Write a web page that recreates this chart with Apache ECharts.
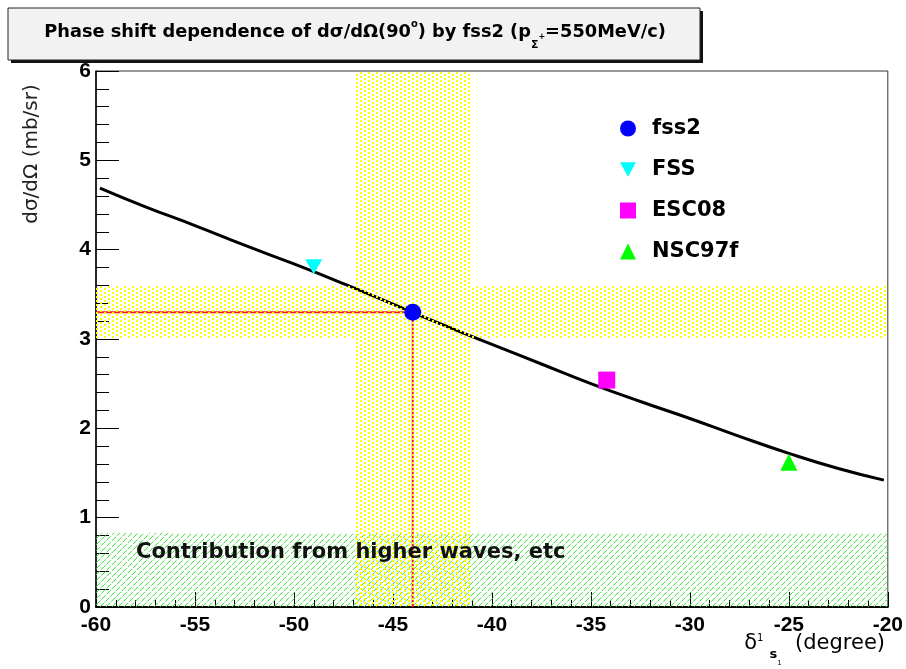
<!DOCTYPE html>
<html>
<head>
<meta charset="utf-8">
<script src="https://cdn.jsdelivr.net/npm/echarts@6/dist/echarts.min.js"></script>
<style>
  html, body { margin: 0; padding: 0; background: #ffffff; }
  #chart { width: 906px; height: 669px; }
</style>
</head>
<body>
<div id="chart"></div>
<script>
// fss2 prediction of dσ/dΩ(90°) as a function of the phase shift (degrees)
const curveDelta = [-59.8, -57.5, -55, -52.5, -50, -47.5, -45, -42.5, -40, -37.5, -35, -32.5, -30, -27.5, -25, -22.5, -20.2];
const curveXsec  = [4.69, 4.48, 4.27, 4.05, 3.84, 3.62, 3.39, 3.16, 2.94, 2.72, 2.50, 2.30, 2.11, 1.91, 1.72, 1.55, 1.42];

// model points
const modelNames   = ['fss2', 'FSS', 'ESC08', 'NSC97f'];
const modelDelta   = [-44.0, -49.0, -34.2, -25.0];
const modelXsec    = [3.30, 3.81, 2.54, 1.62];
const modelSymbols = ['circle', 'path://M0,0 L10,0 L5,9 Z', 'rect', 'triangle'];
const modelColors  = ['#0000ff', '#00ffff', '#ff00ff', '#00ff00'];

// uncertainty bands
const deltaBand   = [-47, -41];
const xsecBand    = [3.0, 3.6];
const higherWaves = 0.83;

// axis ranges
const deltaRange = [-60, -20];
const xsecRange  = [0, 6];

// 8x8 stipple cell (2x2 dots) used for the yellow bands
const stippleCell = [[0, 0], [4, 2], [0, 4], [4, 6]];

function rectOf(api) {
  const a = api.coord([api.value(0), api.value(1)]);
  const b = api.coord([api.value(2), api.value(3)]);
  return {
    x: Math.min(a[0], b[0]), y: Math.min(a[1], b[1]),
    w: Math.abs(b[0] - a[0]), h: Math.abs(b[1] - a[1])
  };
}

// yellow stippled band: one compound path of dots on the pixel grid
function renderDotBand(params, api) {
  const r = rectOf(api);
  const x0 = Math.ceil(r.x), x1 = Math.floor(r.x + r.w);
  const y0 = Math.ceil(r.y), y1 = Math.floor(r.y + r.h);
  const parts = [];
  for (let by = Math.floor(y0 / 8) * 8; by < y1; by += 8) {
    for (let bx = Math.floor(x0 / 8) * 8; bx < x1; bx += 8) {
      for (const c of stippleCell) {
        const px = bx + c[0], py = by + c[1];
        if (px < x0 || px + 2 > x1 || py < y0 || py + 2 > y1) continue;
        parts.push('M' + px + ' ' + py + 'h2v2h-2Z');
      }
    }
  }
  return {
    type: 'path',
    shape: { pathData: parts.join('') },
    style: { fill: '#ffff00', stroke: null }
  };
}

// green 45° hatching, clipped to the band rectangle
function renderHatchBand(params, api) {
  const r = rectOf(api);
  const step = 6;
  const x0 = r.x, x1 = r.x + r.w, yB = r.y + r.h, H = r.h;
  const lines = [];
  for (let s = x0 - H; s < x1; s += step) {
    const t0 = Math.max(0, x0 - s);
    const t1 = Math.min(H, x1 - s);
    if (t1 <= t0) continue;
    lines.push({
      type: 'line',
      shape: { x1: s + t0, y1: yB - t0, x2: s + t1, y2: yB - t1 },
      style: { stroke: '#33dd33', lineWidth: 1, lineDash: [6, 1.5] }
    });
  }
  return { type: 'group', children: lines };
}

const tickFont = { fontFamily: 'Liberation Sans', fontWeight: 'bold', fontSize: 21, color: '#000' };

const chart = echarts.init(document.getElementById('chart'), null, { renderer: 'canvas' });

const modelSeries = modelNames.map((name, i) => ({
  name: name,
  type: 'scatter',
  data: [[modelDelta[i], modelXsec[i]]],
  symbol: modelSymbols[i],
  symbolSize: i === 1 ? [17, 15] : 17,
  itemStyle: { color: modelColors[i], opacity: 1 },
  z: 6,
  silent: true
}));

chart.setOption({
  animation: false,
  backgroundColor: '#ffffff',
  grid: {
    left: 96, top: 71, right: 16, bottom: 62,
    show: true, borderColor: '#333', borderWidth: 1, backgroundColor: 'transparent'
  },
  xAxis: {
    type: 'value',
    min: deltaRange[0], max: deltaRange[1], interval: 5,
    axisLine: { onZero: false, lineStyle: { color: '#000', width: 2 } },
    axisTick: { inside: true, length: 15, lineStyle: { color: '#000', width: 1 } },
    minorTick: { show: true, splitNumber: 5, length: 7, lineStyle: { color: '#000', width: 1 } },
    splitLine: { show: false },
    axisLabel: Object.assign({ margin: 8 }, tickFont)
  },
  yAxis: {
    type: 'value',
    min: xsecRange[0], max: xsecRange[1], interval: 1,
    axisLine: { show: true, onZero: false, lineStyle: { color: '#000', width: 1.5 } },
    axisTick: { show: true, inside: true, length: 23, lineStyle: { color: '#000', width: 1 } },
    minorTick: { show: true, splitNumber: 5, length: 13, lineStyle: { color: '#000', width: 1 } },
    splitLine: { show: false },
    axisLabel: Object.assign({ margin: 5 }, tickFont)
  },
  legend: {
    data: modelNames,
    orient: 'vertical',
    left: 615, top: 113,
    itemWidth: 16, itemHeight: 16, itemGap: 20,
    textStyle: {
      fontFamily: 'DejaVu Sans', fontWeight: 'bold', fontSize: 21, color: '#000',
      padding: [0, 0, 0, 11]
    },
    selectedMode: false
  },
  series: [
    {
      type: 'custom',
      name: 'higher',
      renderItem: renderHatchBand,
      data: [[deltaRange[0], 0, deltaRange[1], higherWaves]],
      encode: { x: [0, 2], y: [1, 3] },
      z: 1, silent: true
    },
    {
      type: 'line',
      name: 'guide',
      data: [[deltaRange[0], modelXsec[0]], [modelDelta[0], modelXsec[0]], [modelDelta[0], 0]],
      symbol: 'none',
      lineStyle: { color: '#ff1a1a', width: 2 },
      z: 2, silent: true
    },
    {
      type: 'line',
      name: 'curve',
      data: curveDelta.map((d, i) => [d, curveXsec[i]]),
      symbol: 'none',
      smooth: true,
      lineStyle: { color: '#000', width: 3 },
      z: 3, silent: true
    },
    {
      type: 'custom',
      name: 'bands',
      renderItem: renderDotBand,
      data: [
        [deltaBand[0], xsecRange[0], deltaBand[1], xsecRange[1]],
        [deltaRange[0], xsecBand[0], deltaRange[1], xsecBand[1]]
      ],
      encode: { x: [0, 2], y: [1, 3] },
      z: 4, silent: true
    }
  ].concat(modelSeries),
  graphic: [
    // title box with shadow
    { type: 'rect', shape: { x: 11, y: 11, width: 692, height: 52 }, style: { fill: '#111' }, z: 10 },
    { type: 'rect', shape: { x: 8, y: 8, width: 692, height: 52 }, style: { fill: '#f2f2f2', stroke: '#222', lineWidth: 1 }, z: 11 },
    {
      type: 'text', x: 355, y: 32, z: 12,
      style: {
        text: '{n|Phase shift dependence of dσ/dΩ(90}{sup|o}{n|) by fss2 (p}{sub|Σ}{subsup|+}{n|=550MeV/c)}',
        align: 'center', verticalAlign: 'middle',
        rich: {
          n:      { fontFamily: 'DejaVu Sans', fontWeight: 'bold', fontSize: 17.8, color: '#111', lineHeight: 30 },
          sup:    { fontFamily: 'DejaVu Sans', fontWeight: 'bold', fontSize: 10, color: '#111', lineHeight: 10, verticalAlign: 'top', padding: [2, 0, 0, 0] },
          sub:    { fontFamily: 'DejaVu Sans', fontWeight: 'bold', fontSize: 11, color: '#111', lineHeight: 11, verticalAlign: 'bottom', padding: [0, 0, -4, 0] },
          subsup: { fontFamily: 'DejaVu Sans', fontWeight: 'bold', fontSize: 8, color: '#111', lineHeight: 8, verticalAlign: 'bottom', padding: [0, 0, 6, 0] }
        }
      }
    },
    // y axis title
    {
      type: 'text', x: 32, y: 154, rotation: Math.PI / 2, z: 12,
      style: {
        text: 'dσ/dΩ (mb/sr)',
        fontFamily: 'DejaVu Sans', fontSize: 20, fill: '#222',
        align: 'center', verticalAlign: 'middle'
      }
    },
    // x axis title
    {
      type: 'text', x: 885, y: 650, z: 12,
      style: {
        text: '{d|δ}{p|1}{s|s}{q|1}{n|  (degree)}',
        align: 'right', verticalAlign: 'middle',
        rich: {
          d: { fontFamily: 'DejaVu Sans', fontSize: 21, color: '#6b4a32', lineHeight: 34, verticalAlign: 'top' },
          p: { fontFamily: 'DejaVu Sans', fontSize: 10, color: '#6b4a32', lineHeight: 24, verticalAlign: 'top' },
          s: { fontFamily: 'DejaVu Sans', fontWeight: 'bold', fontSize: 13, color: '#333', lineHeight: 18, verticalAlign: 'bottom', padding: [0, 0, 6, 6] },
          q: { fontFamily: 'DejaVu Sans', fontSize: 7, color: '#333', lineHeight: 8, verticalAlign: 'bottom' },
          n: { fontFamily: 'DejaVu Sans', fontSize: 21, color: '#111', lineHeight: 34, verticalAlign: 'top' }
        }
      }
    },
    // annotation inside the green band
    {
      type: 'text', x: 136, y: 553, z: 12,
      style: {
        text: 'Contribution from higher waves, etc',
        fontFamily: 'DejaVu Sans', fontWeight: 'bold', fontSize: 21, fill: '#111',
        align: 'left', verticalAlign: 'middle'
      }
    }
  ]
});
</script>
</body>
</html>
